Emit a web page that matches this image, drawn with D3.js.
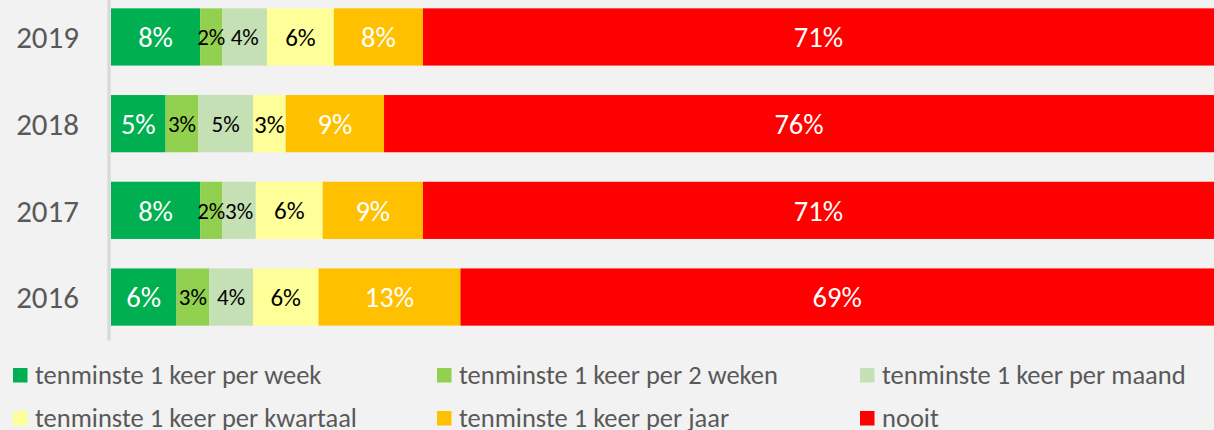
<!DOCTYPE html>
<html>
<head>
<meta charset="utf-8">
<script src="https://cdn.jsdelivr.net/npm/d3@7"></script>
<style>
  html, body { margin: 0; padding: 0; background: #f2f2f2; }
  svg { display: block; }
</style>
</head>
<body>
<div id="chart"></div>
<script>
// data
var years = ["2019", "2018", "2017", "2016"];
var categories = [
    "tenminste 1 keer per week",
    "tenminste 1 keer per 2 weken",
    "tenminste 1 keer per maand",
    "tenminste 1 keer per kwartaal",
    "tenminste 1 keer per jaar",
    "nooit"
];
var perWeek = [8, 5, 8, 6];
var per2Weken = [2, 3, 2, 3];
var perMaand = [4, 5, 3, 4];
var perKwartaal = [6, 3, 6, 6];
var perJaar = [8, 9, 9, 13];
var nooit = [71, 76, 71, 69];

var seriesValues = [perWeek, per2Weken, perMaand, perKwartaal, perJaar, nooit];
var colors = ["#00b050", "#92d050", "#c5e0b4", "#ffff99", "#ffc000", "#ff0000"];
var labelColors = ["#fff", "#000", "#000", "#000", "#fff", "#fff"];
var labelSizes = [28.5, 23, 23, 25, 28.5, 28.5];

var width = 1214,
    height = 430,
    font = "Carlito, Lato, sans-serif";

var rows = years.map(function (y, i) {
    var r = { year: y };
    categories.forEach(function (c, j) { r[c] = seriesValues[j][i]; });
    return r;
});

// 100% stacked, like the spreadsheet does it
var stack = d3.stack().keys(categories).offset(d3.stackOffsetExpand);
var layers = stack(rows);

var svg = d3.select("#chart").append("svg")
    .attr("width", width)
    .attr("height", height)
    .style("background", "#f2f2f2");

var x = d3.scaleLinear().domain([0, 1]).range([111, 1214]);
var y = d3.scaleBand().domain(years).range([-6.4, 340.4])
    .paddingInner(0.34).paddingOuter(0.17);

// vertical axis line
svg.append("line")
    .attr("x1", 109).attr("x2", 109)
    .attr("y1", y.range()[0]).attr("y2", y.range()[1])
    .style("stroke", "#d9d9d9")
    .style("stroke-width", 3.3);

// year labels
svg.append("g").selectAll("text").data(years).enter()
    .append("text")
    .attr("x", 79)
    .attr("y", function (d) { return y(d) + y.bandwidth() / 2; })
    .attr("dy", "0.36em")
    .style("text-anchor", "end")
    .style("font-family", font)
    .style("font-size", "31px")
    .style("fill", "#595959")
    .text(function (d) { return d; });

var layerG = svg.append("g").selectAll("g").data(layers).enter()
    .append("g")
    .style("fill", function (d, i) { return colors[i]; });

layerG.selectAll("rect").data(function (d) { return d; }).enter()
    .append("rect")
    .attr("x", function (d) { return x(d[0]); })
    .attr("y", function (d) { return y(d.data.year); })
    .attr("width", function (d) { return x(d[1]) - x(d[0]); })
    .attr("height", y.bandwidth());

// data labels
svg.append("g").selectAll("g").data(layers).enter()
    .append("g")
    .each(function (layer, i) {
        d3.select(this).selectAll("text").data(layer).enter()
            .append("text")
            .attr("x", function (d) { return (x(d[0]) + x(d[1])) / 2; })
            .attr("y", function (d) { return y(d.data.year) + y.bandwidth() / 2; })
            .attr("dy", "0.36em")
            .style("text-anchor", "middle")
            .style("font-family", font)
            .style("font-size", labelSizes[i] + "px")
            .style("fill", labelColors[i])
            .text(function (d) { return d.data[layer.key] + "%"; });
    });

// legend, 3 columns x 2 rows
var legendCols = [13, 437, 860],
    legendRows = [368, 411];

var legend = svg.append("g").selectAll("g").data(categories).enter()
    .append("g")
    .attr("transform", function (d, i) {
        return "translate(" + legendCols[i % 3] + "," + legendRows[Math.floor(i / 3)] + ")";
    });

legend.append("rect")
    .attr("width", 14.5)
    .attr("height", 14.5)
    .style("fill", function (d, i) { return colors[i]; });

legend.append("text")
    .attr("x", 22)
    .attr("y", 16)
    .style("font-family", font)
    .style("font-size", "26.5px")
    .style("fill", "#595959")
    .text(function (d) { return d; });
</script>
</body>
</html>
